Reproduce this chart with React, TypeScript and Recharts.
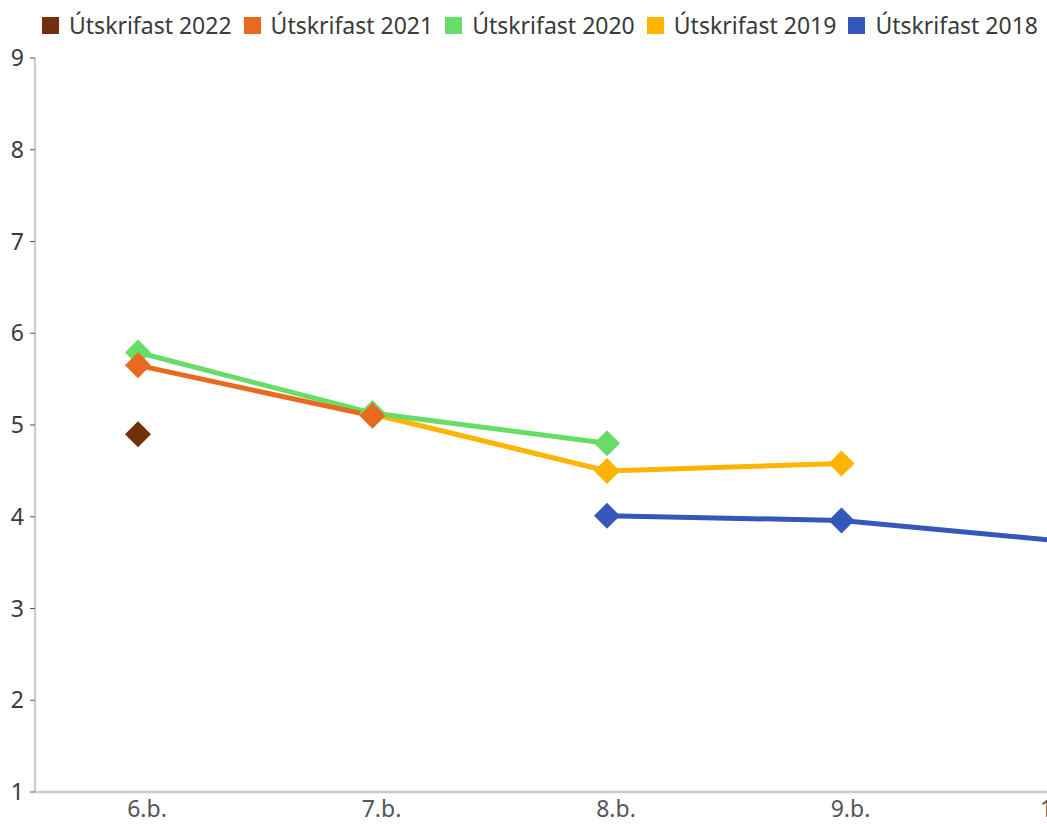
import { LineChart, Line, XAxis, YAxis } from 'recharts';

const categories = ['6.b.', '7.b.', '8.b.', '9.b.', '10.b.'];

const grad2022 = [4.9, null, null, null, null];
const grad2021 = [5.65, 5.1, null, null, null];
const grad2020 = [5.79, 5.13, 4.8, null, null];
const grad2019 = [null, 5.12, 4.5, 4.58, null];
const grad2018 = [null, null, 4.01, 3.96, 3.72];

const yTicks = [1, 2, 3, 4, 5, 6, 7, 8, 9];

// drawn back to front, legend lists them the other way round
const series = [
  { key: 'y2018', name: 'Útskrifast 2018', color: '#3457B9', values: grad2018 },
  { key: 'y2019', name: 'Útskrifast 2019', color: '#FFB400', values: grad2019 },
  { key: 'y2020', name: 'Útskrifast 2020', color: '#66DD66', values: grad2020 },
  { key: 'y2021', name: 'Útskrifast 2021', color: '#E9691E', values: grad2021 },
  { key: 'y2022', name: 'Útskrifast 2022', color: '#722F0B', values: grad2022 },
];

const data = categories.map((cat, i) => {
  const row: Record<string, any> = { cat };
  series.forEach(s => { row[s.key] = s.values[i]; });
  return row;
});

const VIEW_W = 1047;
const FONT = '"Noto Sans", Lato, sans-serif';
const FS = 23;

function Diamond(props: any) {
  const { cx, cy, stroke, value, index } = props;
  if (value == null || cx == null || cy == null) return <g key={index} />;
  const r = 13;
  return (
    <polygon
      key={index}
      points={`${cx},${cy - r} ${cx + r},${cy} ${cx},${cy + r} ${cx - r},${cy}`}
      fill={stroke}
    />
  );
}

function XTick(props: any) {
  const { x, y, payload } = props;
  let tx = x + 9;
  let anchor: 'middle' | 'start' = 'middle';
  // keep the last label inside the visible area
  if (tx + 25 > VIEW_W) {
    tx = VIEW_W - 7;
    anchor = 'start';
  }
  return (
    <text x={tx} y={y + 9} dy="0.71em" textAnchor={anchor} fill="#555" fontSize={FS} fontFamily={FONT}>
      {payload.value}
    </text>
  );
}

export default function App() {
  const legendItems = [...series].reverse();
  return (
    <div style={{ position: 'absolute', left: 0, top: 0, width: VIEW_W, height: 824, overflow: 'hidden', background: '#fff', fontFamily: FONT }}>
      <div style={{ position: 'absolute', left: 42, top: 9, display: 'flex', alignItems: 'center', whiteSpace: 'nowrap' }}>
        {legendItems.map(s => (
          <div key={s.key} style={{ display: 'flex', alignItems: 'center', marginRight: 12 }}>
            <span style={{ width: 17, height: 17, background: s.color, display: 'inline-block', marginRight: 10 }} />
            <span style={{ fontSize: FS, color: '#3a3a3a' }}>{s.name}</span>
          </div>
        ))}
      </div>
      <LineChart width={1116} height={824} data={data} margin={{ top: 58, right: 0, bottom: 0, left: 0 }}>
        <XAxis
          dataKey="cat"
          height={32}
          padding={{ left: 103, right: 40 }}
          axisLine={{ stroke: '#ccc', strokeWidth: 2.3 }}
          tickLine={false}
          tickSize={0}
          tickMargin={0}
          tick={<XTick />}
          interval={0}
        />
        <YAxis
          width={35}
          domain={[1, 9]}
          ticks={yTicks}
          type="number"
          axisLine={{ stroke: '#ccc', strokeWidth: 2.3 }}
          tickLine={{ stroke: '#555', strokeWidth: 1 }}
          tickSize={5}
          tickMargin={6}
          tick={{ fill: '#3a3a3a', fontSize: FS, fontFamily: FONT }}
        />
        {series.map(s => (
          <Line
            key={s.key}
            type="linear"
            dataKey={s.key}
            name={s.name}
            stroke={s.color}
            strokeWidth={5}
            dot={<Diamond />}
            activeDot={false}
            isAnimationActive={false}
          />
        ))}
      </LineChart>
    </div>
  );
}
